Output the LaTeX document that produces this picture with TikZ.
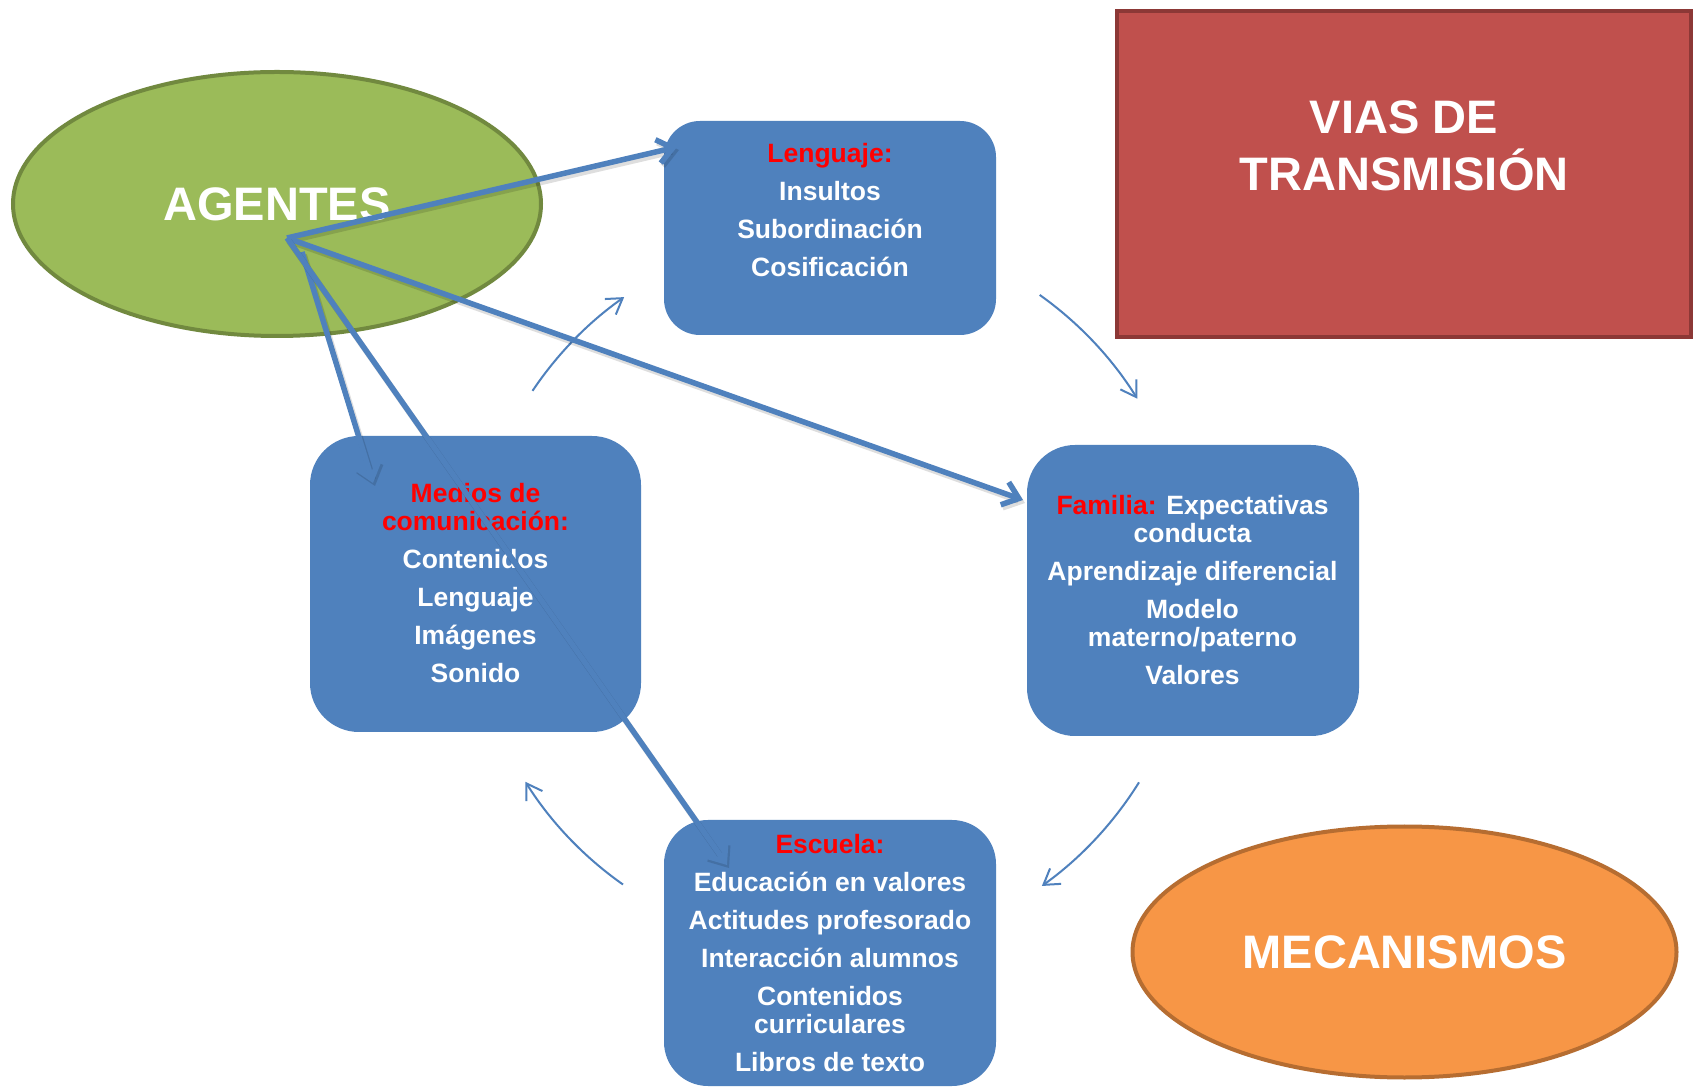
\documentclass[tikz,border=0pt]{standalone}
\usepackage{fontspec}
\setmainfont{Liberation Sans}
\usetikzlibrary{arrows.meta,shapes.geometric}

\definecolor{boxblue}{HTML}{4F81BD}
\definecolor{leafgreen}{HTML}{9BBB59}
\definecolor{leafedge}{HTML}{71893F}
\definecolor{brick}{HTML}{C0504D}
\definecolor{brickedge}{HTML}{8C3836}
\definecolor{amber}{HTML}{F79646}
\definecolor{amberedge}{HTML}{B66D31}
\definecolor{hotred}{HTML}{FF0000}

% fixed line pitch for stacked labels
\newcommand{\fixedpitch}{\lineskiplimit=-100pt\relax\lineskip=0pt\relax}
\newcommand{\titlefont}{\bfseries\fontsize{47}{57}\selectfont\fixedpitch}
\newcommand{\bodyfont}{\bfseries\fontsize{26.5}{28}\selectfont\fixedpitch}

\begin{document}
\begin{tikzpicture}[x=1pt,y=1pt,
  bigtitle/.style={text=white, align=center, inner sep=0pt, font=\titlefont},
  body/.style={text=white, align=center, inner sep=0pt, anchor=north, font=\bodyfont},
  panel/.style={rectangle, fill=boxblue, draw=none, inner sep=0pt},
  blob/.style={ellipse, line width=4pt, inner sep=0pt},
  spoke/.style={draw=boxblue, line width=5.5pt,
    -{Straight Barb[length=15pt,width=24pt,line width=5.5pt]},
    preaction={draw=black, opacity=0.13, line width=6pt,
      transform canvas={shift={(2,-3)}}}},
  loopline/.style={draw=boxblue, line width=2pt,
    -{Straight Barb[length=15pt,width=19pt,line width=2pt]}},
]
% page area
\fill[white] (0,0) rectangle (1698,1088);
\useasboundingbox (0,0) rectangle (1698,1088);

% agents and mechanisms
\node[blob, draw=leafedge, fill=leafgreen, minimum width=528, minimum height=264,
      bigtitle] (agentes) at (277,884) {AGENTES};
\node[blob, draw=amberedge, fill=amber, minimum width=544, minimum height=251,
      bigtitle] (mecanismos) at (1404.5,136) {MECANISMOS};

% title block
\node[rectangle, draw=brickedge, line width=4pt, fill=brick,
      minimum width=574, minimum height=326] (vias) at (1404,914) {};
\node[bigtitle, anchor=north] (viastxt) at (1404,988) {VIAS DE\\TRANSMISIÓN};

% the four transmission paths
\node[panel, minimum width=332, minimum height=214, rounded corners=36] (leng) at (830,860) {};
\node[panel, minimum width=332, minimum height=291, rounded corners=48] (fam) at (1193,497.5) {};
\node[panel, minimum width=331, minimum height=296, rounded corners=49] (medios) at (475.5,504) {};
\node[panel, minimum width=332, minimum height=266, rounded corners=44] (esc) at (830,135) {};

\node[body] (lengtxt) at (830,944.5)
  {\textcolor{hotred}{Lenguaje:}\\[10pt]Insultos\\[10pt]Subordinación\\[10pt]Cosificación};
\node[body] (famtxt) at (1192.5,592.5)
  {\textcolor{hotred}{Familia:} Expectativas\\conducta\\[10pt]Aprendizaje diferencial\\[10pt]Modelo\\materno/paterno\\[10pt]Valores};
\node[body] (mediostxt) at (475.5,604.5)
  {\textcolor{hotred}{Medios de}\\\textcolor{hotred}{comunicación:}\\[10pt]Contenidos\\[10pt]Lenguaje\\[10pt]Imágenes\\[10pt]Sonido};
\node[body] (esctxt) at (830,253.5)
  {\textcolor{hotred}{Escuela:}\\[10pt]Educación en valores\\[10pt]Actitudes profesorado\\[10pt]Interacción alumnos\\[10pt]Contenidos\\curriculares\\[10pt]Libros de texto};

% clockwise cycle between the paths
\coordinate (cyc) at (830,498);
\draw[loopline] ([shift={(146.2:358)}]cyc) arc[start angle=146.2, end angle=125.1, radius=358];
\draw[loopline] ([shift={(54.6:362)}]cyc) arc[start angle=54.6, end angle=31.9, radius=362];
\draw[loopline] ([shift={(-31.9:364)}]cyc) arc[start angle=-31.9, end angle=-54.4, radius=364];
\draw[loopline] ([shift={(-125.1:360)}]cyc) arc[start angle=-125.1, end angle=-147.8, radius=360];

% spokes from the agents to each path
\coordinate (hub) at (287,850);
\coordinate (hubb) at (302,836);
\coordinate (tipL) at (677,941);
\coordinate (tipF) at (1023,588);
\coordinate (tipM) at (373,605);
\coordinate (tipE) at (727,223);
\draw[spoke] (hub) -- (tipL);
\draw[spoke] (hub) -- (tipF);
\draw[spoke] (hubb) -- (tipM);
\draw[spoke] (hub) -- (tipE);
\end{tikzpicture}
\end{document}
